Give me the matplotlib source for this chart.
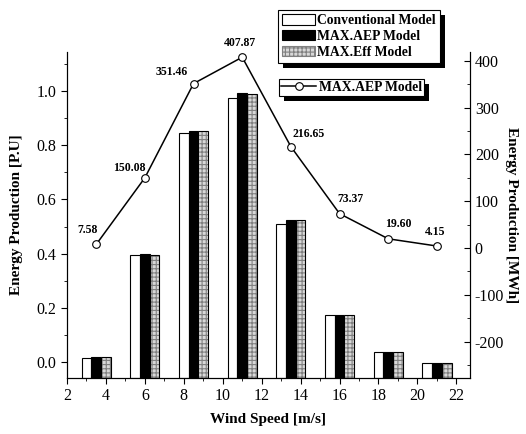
import matplotlib
matplotlib.use('Agg')
import matplotlib.pyplot as plt
from matplotlib.patches import Patch, Rectangle
from matplotlib.lines import Line2D
from matplotlib.ticker import MultipleLocator

plt.rcParams['font.family'] = ['Liberation Serif', 'DejaVu Serif']
plt.rcParams['hatch.linewidth'] = 0.8
plt.rcParams['axes.unicode_minus'] = False

# data
wind_speed = [3.5, 6, 8.5, 11, 13.5, 16, 18.5, 21]
conventional = [0.015, 0.394, 0.844, 0.973, 0.511, 0.172, 0.037, -0.002]
max_aep = [0.019, 0.400, 0.853, 0.991, 0.523, 0.172, 0.037, -0.002]
max_eff = [0.018, 0.394, 0.853, 0.988, 0.523, 0.172, 0.037, -0.002]
aep_mwh = [7.58, 150.08, 351.46, 407.87, 216.65, 73.37, 19.60, 4.15]
aep_labels = ['7.58', '150.08', '351.46', '407.87', '216.65', '73.37', '19.60', '4.15']
# label offsets (points) relative to each marker
label_offsets = [(-6, 6), (-11, 3), (-16, 4), (-2, 6), (13, 5), (8, 6), (7, 6), (-1, 6)]

ybot, ytop = -0.059, 1.144
y2bot, y2top = -278, 419
w = 0.5

fig = plt.figure(figsize=(5.26, 4.34), dpi=100)
ax = fig.add_axes([67/526, 1-378/434, (470-67)/526, (378-52)/434])

ax.bar([x - w for x in wind_speed], [h - ybot for h in conventional], w, bottom=ybot,
       color='white', edgecolor='black', linewidth=0.8, zorder=2)
ax.bar(wind_speed, [h - ybot for h in max_aep], w, bottom=ybot,
       color='black', edgecolor='black', linewidth=0.8, zorder=2)
ax.bar([x + w for x in wind_speed], [h - ybot for h in max_eff], w, bottom=ybot,
       color='#d8d8d8', edgecolor='#808080', hatch='++++', linewidth=0, zorder=2)
ax.bar([x + w for x in wind_speed], [h - ybot for h in max_eff], w, bottom=ybot,
       color='none', edgecolor='black', linewidth=0.8, zorder=3)

ax.set_xlim(2, 22.7)
ax.set_ylim(ybot, ytop)
ax.xaxis.set_major_locator(MultipleLocator(2))
ax.xaxis.set_minor_locator(MultipleLocator(1))
ax.yaxis.set_major_locator(MultipleLocator(0.2))
ax.yaxis.set_minor_locator(MultipleLocator(0.1))
ax.tick_params(which='both', direction='out', labelsize=11.5)
ax.tick_params(which='major', length=4)
ax.tick_params(which='minor', length=2.5)
ax.spines['top'].set_visible(False)
ax.set_xlabel('Wind Speed [m/s]', fontsize=11, fontweight='bold', labelpad=6)
ax.set_ylabel('Energy Production [P.U]', fontsize=11, fontweight='bold', labelpad=10)

ax2 = ax.twinx()
ax2.plot(wind_speed, aep_mwh, color='black', linewidth=1.1, marker='o', markersize=5.5,
         markerfacecolor='white', markeredgecolor='black', markeredgewidth=0.8, zorder=4)
for x, v, t, off in zip(wind_speed, aep_mwh, aep_labels, label_offsets):
    ax2.annotate(t, (x, v), xytext=off, textcoords='offset points', ha='center',
                 va='bottom', fontsize=8.5, fontweight='bold')
ax2.set_ylim(y2bot, y2top)
ax2.yaxis.set_major_locator(MultipleLocator(100))
ax2.yaxis.set_minor_locator(MultipleLocator(50))
ax2.tick_params(which='both', direction='in', labelsize=11.5)
ax2.tick_params(which='major', length=4)
ax2.tick_params(which='minor', length=2.5)
ax2.spines['top'].set_visible(False)
ax2.set_ylabel('Energy Production [MWh]', fontsize=11, fontweight='bold',
               rotation=-90, labelpad=10)

bar_handles = [
    Patch(facecolor='white', edgecolor='black', linewidth=0.8),
    Patch(facecolor='black', edgecolor='black', linewidth=0.8),
    Patch(facecolor='#d8d8d8', edgecolor='#808080', hatch='++++', linewidth=0.8),
]
leg1 = fig.legend(bar_handles, ['Conventional Model', 'MAX.AEP Model', 'MAX.Eff Model'],
                  loc='upper left', bbox_to_anchor=(278/526, 1-10/434),
                  prop={'size': 9.8, 'weight': 'bold'}, frameon=True, fancybox=False,
                  edgecolor='black', framealpha=1, handlelength=2.4, handleheight=0.8,
                  handletextpad=0.15, labelspacing=0.2, borderpad=0.3, borderaxespad=0)
leg1.get_frame().set_linewidth(0.8)
line_handle = Line2D([], [], color='black', linewidth=1.1, marker='o', markersize=5.5,
                     markerfacecolor='white', markeredgecolor='black', markeredgewidth=0.8)
leg2 = fig.legend([line_handle], ['MAX.AEP Model'], loc='upper left',
                  bbox_to_anchor=(279/526, 1-79/434), prop={'size': 9.8, 'weight': 'bold'},
                  frameon=True, fancybox=False, edgecolor='black', framealpha=1,
                  handlelength=2.6, handletextpad=0.2, borderpad=0.15, borderaxespad=0)
leg2.get_frame().set_linewidth(0.8)

# black drop shadows behind both legend boxes
fig.canvas.draw()
for leg in (leg1, leg2):
    bb = leg.get_window_extent()
    fig.patches.append(Rectangle((bb.x0 + 5, bb.y0 - 5), bb.width, bb.height,
                                 transform=None, facecolor='black', edgecolor='none',
                                 zorder=4.5))
    leg.set_zorder(6)

fig.savefig('out.png', dpi=100)
